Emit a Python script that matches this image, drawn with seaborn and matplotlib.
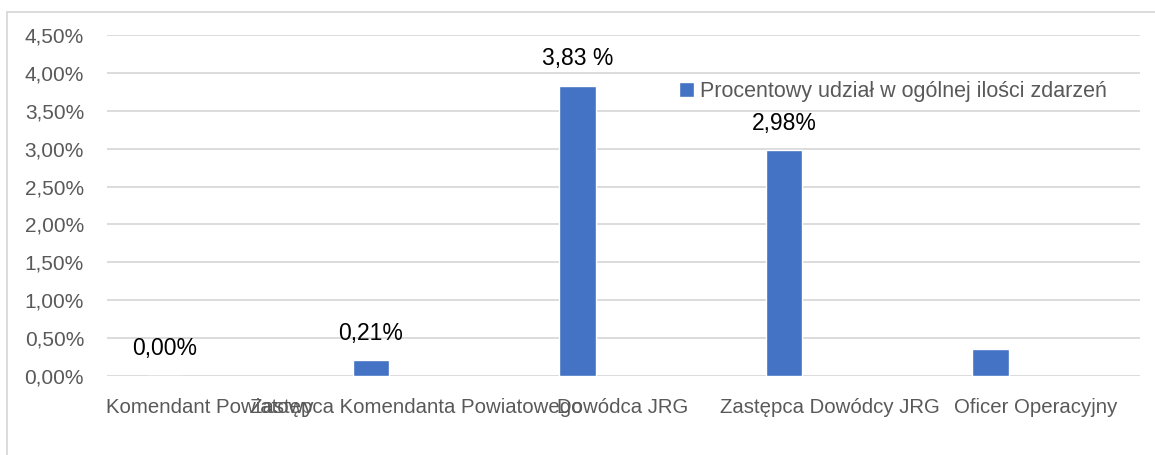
import matplotlib
matplotlib.use("Agg")
import matplotlib.pyplot as plt
import matplotlib.patches as mpatches
from matplotlib.ticker import FuncFormatter, MultipleLocator
import seaborn as sns
import pandas as pd

categories = ["Komendant Powiatowy", "Zastępca Komendanta Powiatowego",
              "Dowódca JRG", "Zastępca Dowódcy JRG", "Oficer Operacyjny"]
values = [0.00, 0.21, 3.83, 2.98, 0.35]
value_labels = ["0,00%", "0,21%", "3,83 %", "2,98%", ""]
series_name = "Procentowy udział w ogólnej ilości zdarzeń"

df = pd.DataFrame({"Stanowisko": categories, "Udzial": values})

sns.set_style("white")
plt.rcParams["font.family"] = ["Liberation Sans", "DejaVu Sans"]

W, H = 1155, 455
fig = plt.figure(figsize=(W / 100, H / 100), dpi=100)
ax = fig.add_axes([107 / W, 1 - 376 / H, (1140 - 107) / W, (376 - 35) / H])

# frame of the chart area (only top and left edges visible)
fig.patches.append(mpatches.Rectangle((7 / W, -0.1), 1.2, 1 - 12 / H + 0.1,
                                      transform=fig.transFigure, fill=False,
                                      edgecolor="#d9d9d9", linewidth=1.3))

sns.barplot(data=df, x="Stanowisko", y="Udzial", color="#4472C4",
            width=0.175, ax=ax, label=series_name, saturation=1)

ax.set_ylim(0, 4.5)
ax.set_xlim(-0.278, 4.724)
ax.yaxis.set_major_locator(MultipleLocator(0.5))
ax.yaxis.set_major_formatter(FuncFormatter(lambda v, p: f"{v:.2f}%".replace(".", ",")))
ax.grid(axis="y", color="#d9d9d9", linewidth=1.3)
ax.set_axisbelow(True)
for s in ax.spines.values():
    s.set_visible(False)

# category labels sit at the middle of each category slot, bars are shifted left
ax.set_xticks([i + 0.22 for i in range(len(categories))])
ax.set_xticklabels(categories)
ax.tick_params(axis="x", length=0, labelsize=14.7, labelcolor="#595959", pad=15.5)
ax.tick_params(axis="y", length=0, labelsize=15, labelcolor="#595959", pad=16.5)
ax.set_xlabel("")
ax.set_ylabel("")

for p, lab in zip(ax.patches, value_labels):
    if lab:
        ax.annotate(lab, (p.get_x() + p.get_width() / 2, p.get_height()),
                    xytext=(0, 27), textcoords="offset pixels",
                    ha="center", va="center", fontsize=16.5, color="black")

leg = ax.legend(loc="upper left",
                bbox_to_anchor=((679 - 107) / (1140 - 107), 1 - (81 - 35) / (376 - 35)),
                frameon=False, fontsize=15.5, handlelength=0.68, handleheight=0.68,
                handletextpad=0.3, borderaxespad=0, borderpad=0)
for t in leg.get_texts():
    t.set_color("#595959")

fig.savefig("out.png", dpi=100)
